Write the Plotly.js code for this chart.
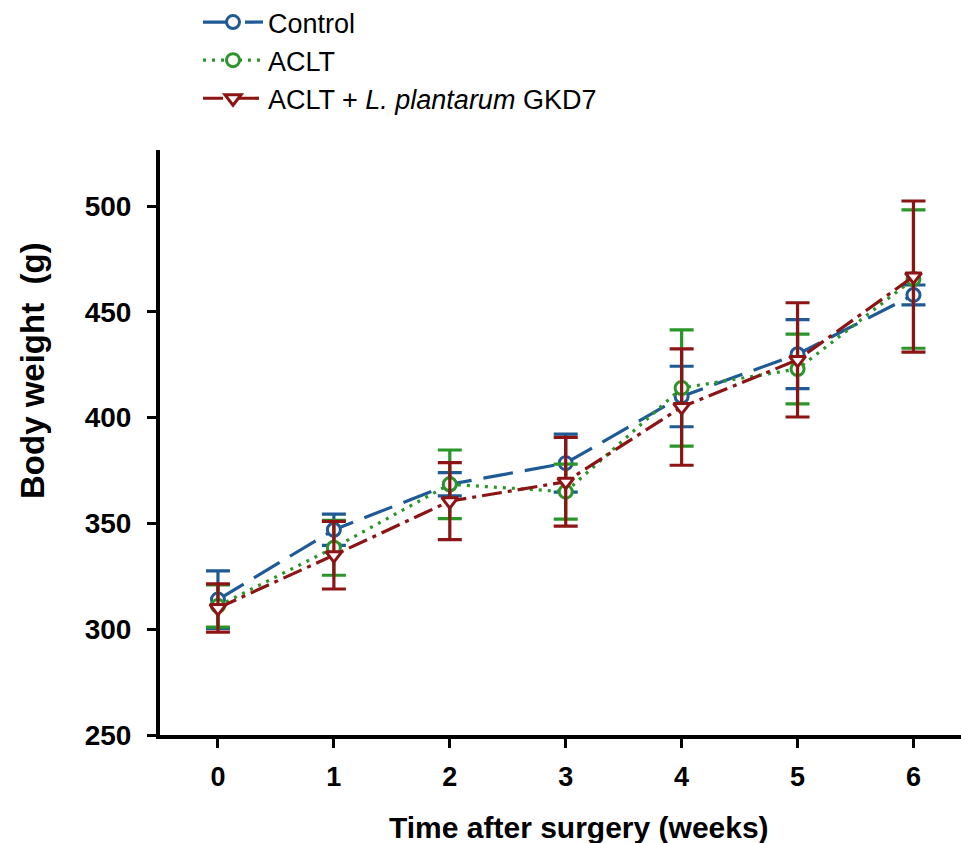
<!DOCTYPE html>
<html>
<head>
<meta charset="utf-8">
<script src="https://cdn.plot.ly/plotly-3.0.1.min.js"></script>
<style>html,body{margin:0;padding:0;background:#fff;}#chart{width:961px;height:843px;}</style>
</head>
<body>
<div id="chart"></div>
<script>
var weeks = [0, 1, 2, 3, 4, 5, 6];
var tickLabels = ["0", "1", "2", "3", "4", "5", "6"];
var seriesNames = ["Control", "ACLT", "ACLT + <i>L. plantarum</i> GKD7"];
var controlMean = [314, 347, 368.5, 378.5, 410, 430, 458];
var controlErr  = [13.6, 7.4, 5.5, 13.7, 14.3, 16.3, 4.7];
var acltMean    = [311, 338.5, 368.5, 365, 414, 423, 465.5];
var acltErr     = [10, 13, 16.2, 13, 27.5, 16.5, 32.7];
var gkd7Mean    = [310, 335, 360.5, 369.7, 405, 427.3, 466.7];
var gkd7Err     = [11.4, 16, 18.2, 21, 27.5, 27, 35.7];
var yTicks = [250, 300, 350, 400, 450, 500];

var FONT = "Liberation Sans, Arial, sans-serif";
var cBlue = "#1e5a96", cGreen = "#2a962a", cRed = "#8c1414";

function mk(name, y, err, color, dash, symbol, msize) {
  return {
    x: weeks, y: y, name: name, type: "scatter", mode: "lines+markers",
    line: {color: color, width: 3.2, dash: dash},
    marker: {symbol: symbol, size: msize, color: "#fff8fa", line: {color: color, width: 3}},
    error_y: {type: "data", array: err, visible: true, color: color, thickness: 3.2, width: 12},
    cliponaxis: false
  };
}

var data = [
  mk(seriesNames[0], controlMean, controlErr, cBlue, "30px,12px", "circle", 13),
  mk(seriesNames[1], acltMean, acltErr, cGreen, "3px,6px", "circle", 13),
  mk(seriesNames[2], gkd7Mean, gkd7Err, cRed, "20px,6px,4px,6px", "triangle-down", 14)
];

var layout = {
  width: 961, height: 843,
  margin: {l: 160, r: 0, t: 150, b: 108, autoexpand: false},
  paper_bgcolor: "#fff", plot_bgcolor: "#fff",
  font: {family: FONT, color: "#000"},
  showlegend: true,
  legend: {
    x: (198 - 160) / 801, y: (735 + 2) / 585, xanchor: "left", yanchor: "top",
    font: {family: FONT, size: 27, color: "#000"},
    itemwidth: 60, bgcolor: "rgba(0,0,0,0)", tracegroupgap: 0
  },
  xaxis: {
    range: [-0.5, 6.41], tickvals: weeks, ticktext: tickLabels,
    showgrid: false, zeroline: false, showline: true, linecolor: "#000", linewidth: 4,
    ticks: "outside", ticklen: 9, tickwidth: 3, tickcolor: "#000",
    tickfont: {family: FONT, size: 27, color: "#000", weight: "bold"},
    ticklabelstandoff: 6
  },
  yaxis: {
    range: [250, 526.5], tickvals: yTicks,
    showgrid: false, zeroline: false, showline: true, linecolor: "#000", linewidth: 4,
    ticks: "outside", ticklen: 9, tickwidth: 3, tickcolor: "#000",
    tickfont: {family: FONT, size: 28, color: "#000", weight: "bold"},
    ticklabelstandoff: 10
  },
  annotations: [
    {text: "<b>Time after surgery (weeks)</b>", xref: "paper", yref: "paper",
     x: (579 - 160) / 801, y: (735 - 828) / 585, xanchor: "center", yanchor: "middle",
     showarrow: false, font: {family: FONT, size: 30, color: "#000"}},
    {text: "<b>Body weight&nbsp;&nbsp;(g)</b>", xref: "paper", yref: "paper",
     x: (32 - 160) / 801, y: (735 - 371) / 585, xanchor: "center", yanchor: "middle",
     textangle: -90, showarrow: false, font: {family: FONT, size: 33, color: "#000"}}
  ]
};

Plotly.newPlot("chart", data, layout, {displayModeBar: false, staticPlot: true});
</script>
</body>
</html>
